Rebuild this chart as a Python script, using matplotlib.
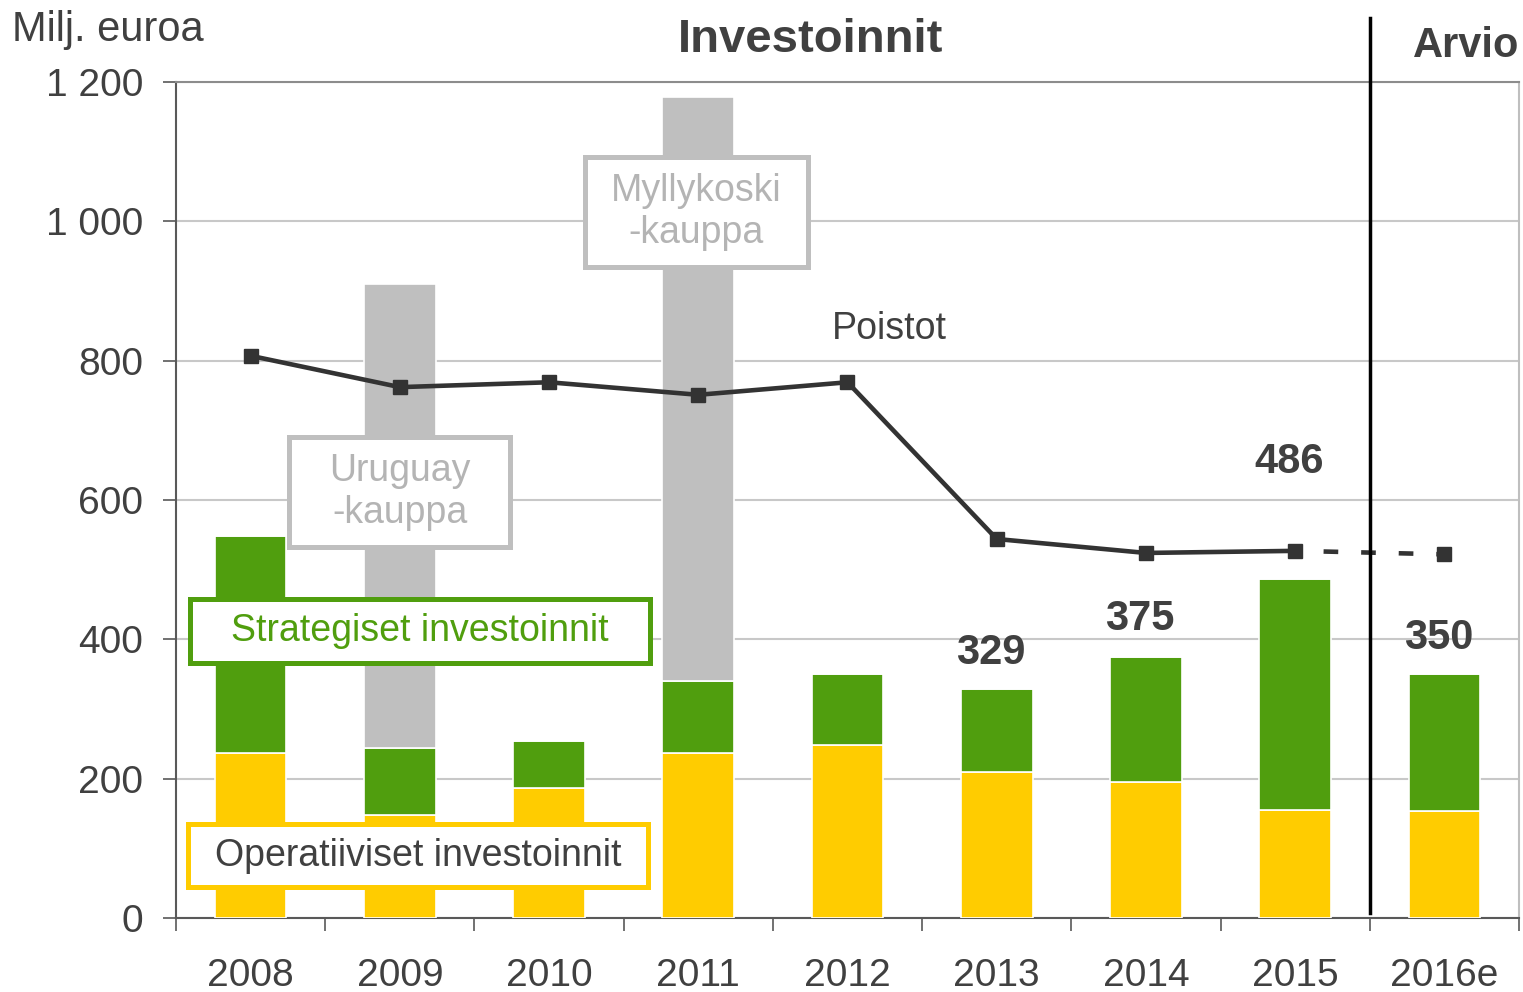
import matplotlib.pyplot as plt
from matplotlib.patches import Rectangle
import numpy as np

plt.rcParams['font.family'] = ['Liberation Sans', 'DejaVu Sans']

# Data (milj. euroa)
years = ['2008', '2009', '2010', '2011', '2012', '2013', '2014', '2015', '2016e']
operatiiviset = [237, 148, 187, 237, 248, 210, 195, 155, 154]
strategiset = [311, 96, 67, 103, 102, 119, 180, 331, 196]
yritysostot = [0, 666, 0, 838, 0, 0, 0, 0, 0]
poistot = [807, 762, 769, 751, 769, 544, 524, 527, 522]
summa_labels = {5: '329', 6: '375', 7: '486', 8: '350'}
label_offsets = {5: 51, 6: 54, 7: 169, 8: 52}

yticks = [0, 200, 400, 600, 800, 1000, 1200]
ytick_labels = ['0', '200', '400', '600', '800', '1 000', '1 200']

c_yellow = '#FFCC00'
c_green = '#509E0E'
c_gray = '#BFBFBF'
c_line = '#333333'
c_text = '#404040'

W, H = 1523, 992
fig = plt.figure(figsize=(W / 100, H / 100), dpi=100)
ax = fig.add_axes([176 / W, 1 - 918 / H, (1519 - 176) / W, (918 - 82) / H])

x = np.arange(len(years))
bw = 0.48
op = np.array(operatiiviset)
st = np.array(strategiset)
ax.bar(x, op, bw, color=c_yellow, edgecolor='white', linewidth=1.2, zorder=3)
ax.bar(x, st, bw, bottom=op, color=c_green, edgecolor='white', linewidth=1.2, zorder=3)
ax.bar(x, yritysostot, bw, bottom=op + st, color=c_gray, edgecolor='white', linewidth=1.2, zorder=3)

# Poistot line, solid to 2015, dashed to the estimate
ax.plot(x[:8], poistot[:8], color=c_line, lw=3.3, marker='s', ms=10, zorder=5)
ax.plot(x[7:], poistot[7:], color=c_line, lw=3.3, ls=(2, (3.2, 5)), zorder=5)
ax.plot(x[8:], poistot[8:], color=c_line, marker='s', ms=10, ls='none', zorder=5)

ax.set_xlim(-0.5, len(years) - 0.5)
ax.set_ylim(0, 1200)
ax.set_yticks(yticks)
ax.set_yticklabels(ytick_labels)
ax.yaxis.grid(True, color='#C8C8C8', lw=1.5, zorder=0)

ax.set_xticks(np.arange(-0.5, len(years)), minor=False)
ax.set_xticklabels([])
ax.set_xticks(x, minor=True)
ax.set_xticklabels(years, minor=True)
ax.tick_params(axis='x', which='major', length=9.5, width=1.2, color='#595959', direction='out')
ax.tick_params(axis='x', which='minor', length=0, pad=29, labelsize=28, labelcolor=c_text)
ax.tick_params(axis='y', length=9.5, width=1.2, color='#595959', labelsize=28,
               labelcolor=c_text, pad=14)

for s in ['left', 'bottom']:
    ax.spines[s].set_color('#595959')
    ax.spines[s].set_linewidth(1.5)
ax.spines['top'].set_color('#8C8C8C')
ax.spines['top'].set_linewidth(1.5)
ax.spines['right'].set_color('#BFBFBF')
ax.spines['right'].set_linewidth(1.5)

# Divider between actuals and estimate
ax.plot([7.5, 7.5], [(918 - 913) / 836 * 1200, (918 - 18) / 836 * 1200],
        color='black', lw=2.5, clip_on=False, zorder=6)

# Total labels
for i, t in summa_labels.items():
    tot = operatiiviset[i] + strategiset[i]
    ax.text(x[i] - 0.04, tot + label_offsets[i], t, ha='center', va='center',
            fontsize=30, fontweight='bold', color=c_text, zorder=7)

ax.text(4.28, 845, 'Poistot', ha='center', va='center', fontsize=27, color=c_text, zorder=7)


def px(xp, yp):
    return (xp - 176) / 1343, (918 - yp) / 836


def box(x0, y0, x1, y1, ec, text, tc, lw):
    ax0, ay1 = px(x0, y0)
    ax1_, ay0 = px(x1, y1)
    ax.add_patch(Rectangle((ax0, ay0), ax1_ - ax0, ay1 - ay0, transform=ax.transAxes,
                           facecolor='white', edgecolor=ec, lw=lw, zorder=8))
    ax.text((ax0 + ax1_) / 2, (ay0 + ay1) / 2, text, transform=ax.transAxes,
            ha='center', va='center', fontsize=27, color=tc, zorder=9, linespacing=1.2)


box(289, 437, 510, 547, c_gray, 'Uruguay\n-kauppa', '#B4B4B4', 3.6)
box(585, 157, 808, 267, c_gray, 'Myllykoski\n-kauppa', '#B4B4B4', 3.6)
box(190, 599, 650, 663, c_green, 'Strategiset investoinnit', c_green, 3.6)
box(188, 824, 648, 887, c_yellow, 'Operatiiviset investoinnit', c_text, 3.6)

fig.text(811 / W, 1 - 40 / H, 'Investoinnit', ha='center', va='center',
         fontsize=34, fontweight='bold', color=c_text)
fig.text(1466 / W, 1 - 46 / H, 'Arvio', ha='center', va='center',
         fontsize=30, fontweight='bold', color=c_text)
fig.text(12 / W, 1 - 30 / H, 'Milj. euroa', ha='left', va='center',
         fontsize=30, color=c_text)

fig.savefig('out.png', dpi=100)
